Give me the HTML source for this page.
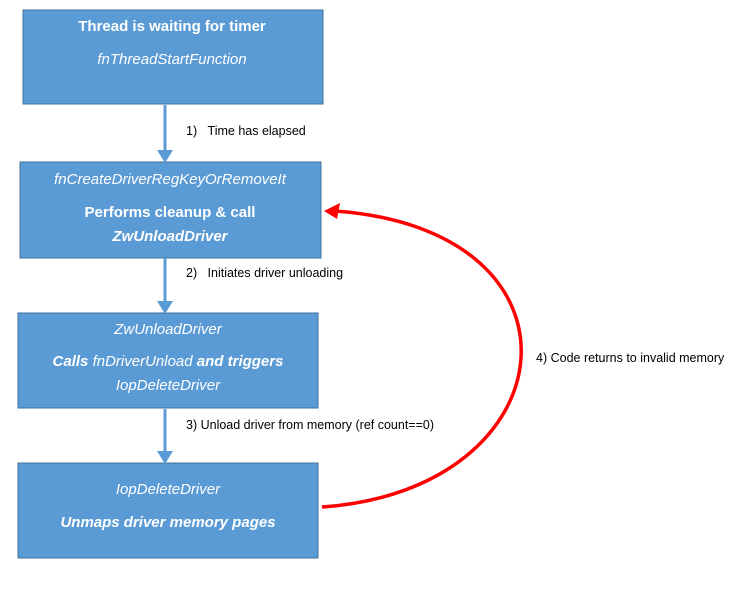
<!DOCTYPE html>
<html><head><style>body{margin:0;background:#fff}svg{display:block}</style></head><body>
<svg width="736" height="589" xmlns="http://www.w3.org/2000/svg" font-family="Liberation Sans, sans-serif">
<g fill="#5b9bd5" stroke="#41719c" stroke-width="1">
<rect x="23" y="10" width="300" height="94"/>
<rect x="20" y="162" width="301" height="96"/>
<rect x="18" y="313" width="300" height="95"/>
<rect x="18" y="463" width="300" height="95"/>
</g>
<g stroke="#5b9bd5" stroke-width="3">
<line x1="165" y1="105" x2="165" y2="152"/><path d="M157,150 L173,150 L165,163 z" fill="#5b9bd5" stroke="none"/>
<line x1="165" y1="258" x2="165" y2="303"/><path d="M157,301 L173,301 L165,314 z" fill="#5b9bd5" stroke="none"/>
<line x1="165" y1="409" x2="165" y2="453"/><path d="M157,451 L173,451 L165,464 z" fill="#5b9bd5" stroke="none"/>
</g>
<path d="M322,507 C570,490 600,230 335,211" fill="none" stroke="#f00" stroke-width="3.5"/>
<path d="M324,211 L340,203 L337,219 z" fill="#f00"/>
<g fill="#fff" text-anchor="middle" font-size="15">
<text x="172" y="31" font-weight="bold">Thread is waiting for timer</text>
<text x="172" y="64" font-style="italic">fnThreadStartFunction</text>
<text x="170" y="184" font-style="italic">fnCreateDriverRegKeyOrRemoveIt</text>
<text x="170" y="217" font-weight="bold">Performs cleanup &amp; call</text>
<text x="170" y="241" font-weight="bold" font-style="italic">ZwUnloadDriver</text>
<text x="168" y="334" font-style="italic">ZwUnloadDriver</text>
<text x="168" y="366" font-style="italic"><tspan font-weight="bold">Calls </tspan>fnDriverUnload<tspan font-weight="bold"> and triggers</tspan></text>
<text x="168" y="390" font-style="italic">IopDeleteDriver</text>
<text x="168" y="494" font-style="italic">IopDeleteDriver</text>
<text x="168" y="527" font-weight="bold" font-style="italic">Unmaps driver memory pages</text>
</g>
<g fill="#000" font-size="12.5">
<text x="186" y="135">1)&#160;&#160;&#160;Time has elapsed</text>
<text x="186" y="277">2)&#160;&#160;&#160;Initiates driver unloading</text>
<text x="186" y="429">3) Unload driver from memory (ref count==0)</text>
<text x="536" y="362">4) Code returns to invalid memory</text>
</g>
</svg>
</body></html>
